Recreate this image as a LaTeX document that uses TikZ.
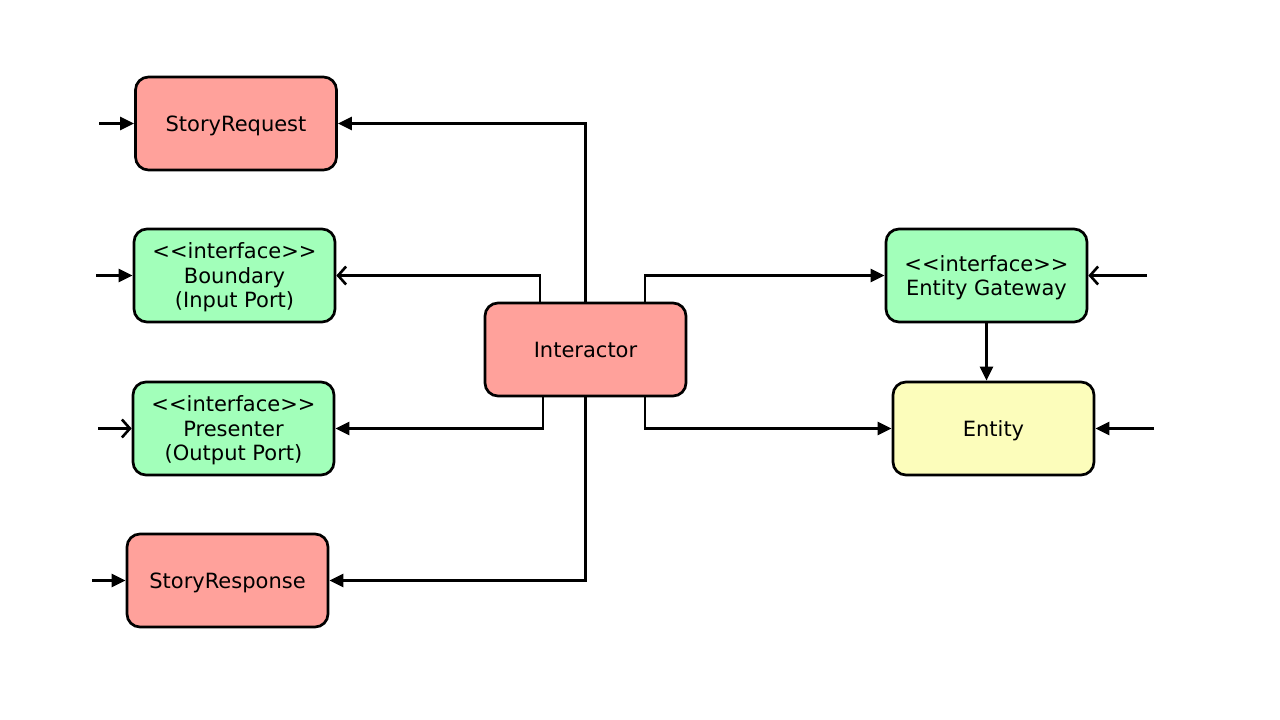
\documentclass[tikz,border=0pt]{standalone}
\usepackage{fontspec}
\setmainfont{DejaVu Sans}[Ligatures=TeXOff]
\usetikzlibrary{arrows.meta}
\definecolor{boxred}{HTML}{FFA19B}
\definecolor{boxgreen}{HTML}{A2FFBA}
\definecolor{boxyellow}{HTML}{FCFDBB}
\begin{document}
\begin{tikzpicture}[x=1pt,y=-1pt,
  box/.style={draw=black, line width=2.7pt, rounded corners=13pt,
    minimum width=201pt, minimum height=93pt, align=center,
    inner sep=0pt, text depth=0pt, font=\fontsize{21}{24.5}\selectfont},
  redbox/.style={box, fill=boxred},
  greenbox/.style={box, fill=boxgreen},
  yellowbox/.style={box, fill=boxyellow},
  conn/.style={line width=2.6pt},
  solidtip/.style={conn, -{Triangle[length=14pt,width=13pt]}},
  opentip/.style={conn, -{Straight Barb[length=8pt,width=18pt,line width=2.6pt]}}]
\useasboundingbox (0,0) rectangle (1280,720);
\fill[white] (0,0) rectangle (1280,720);

\node[redbox] (req) at (236,123.5) {StoryRequest};
\node[greenbox] (bound) at (234.5,275.5) {<<interface>>\\Boundary\\(Input Port)};
\node[greenbox] (pres) at (233.5,428.5) {<<interface>>\\Presenter\\(Output Port)};
\node[redbox] (resp) at (227.5,580.5) {StoryResponse};
\node[redbox] (inter) at (585.5,349.5) {Interactor};
\node[greenbox] (gw) at (986.5,275.5) {<<interface>>\\Entity Gateway};
\node[yellowbox] (ent) at (993.5,428.5) {Entity};

\coordinate (inReq) at (99,123.5);
\coordinate (inBound) at (96,275.5);
\coordinate (inPres) at (98,428.5);
\coordinate (inResp) at (92,580.5);
\coordinate (inGw) at (1147,275.5);
\coordinate (inEnt) at (1154,428.5);

\draw[solidtip] (inter.north) |- (req.east);
\draw[opentip] ([xshift=-45.5pt]inter.north) |- (bound.east);
\draw[solidtip] ([xshift=-42.5pt]inter.south) |- (pres.east);
\draw[solidtip] (inter.south) |- (resp.east);
\draw[solidtip] ([xshift=59.5pt]inter.north) |- (gw.west);
\draw[solidtip] ([xshift=59.5pt]inter.south) |- (ent.west);
\draw[solidtip] (gw.south) -- (gw.south |- ent.north);

\draw[solidtip] (inReq) -- (req.west);
\draw[solidtip] (inBound) -- (bound.west);
\draw[opentip] (inPres) -- (pres.west);
\draw[solidtip] (inResp) -- (resp.west);
\draw[opentip] (inGw) -- (gw.east);
\draw[solidtip] (inEnt) -- (ent.east);
\end{tikzpicture}
\end{document}
